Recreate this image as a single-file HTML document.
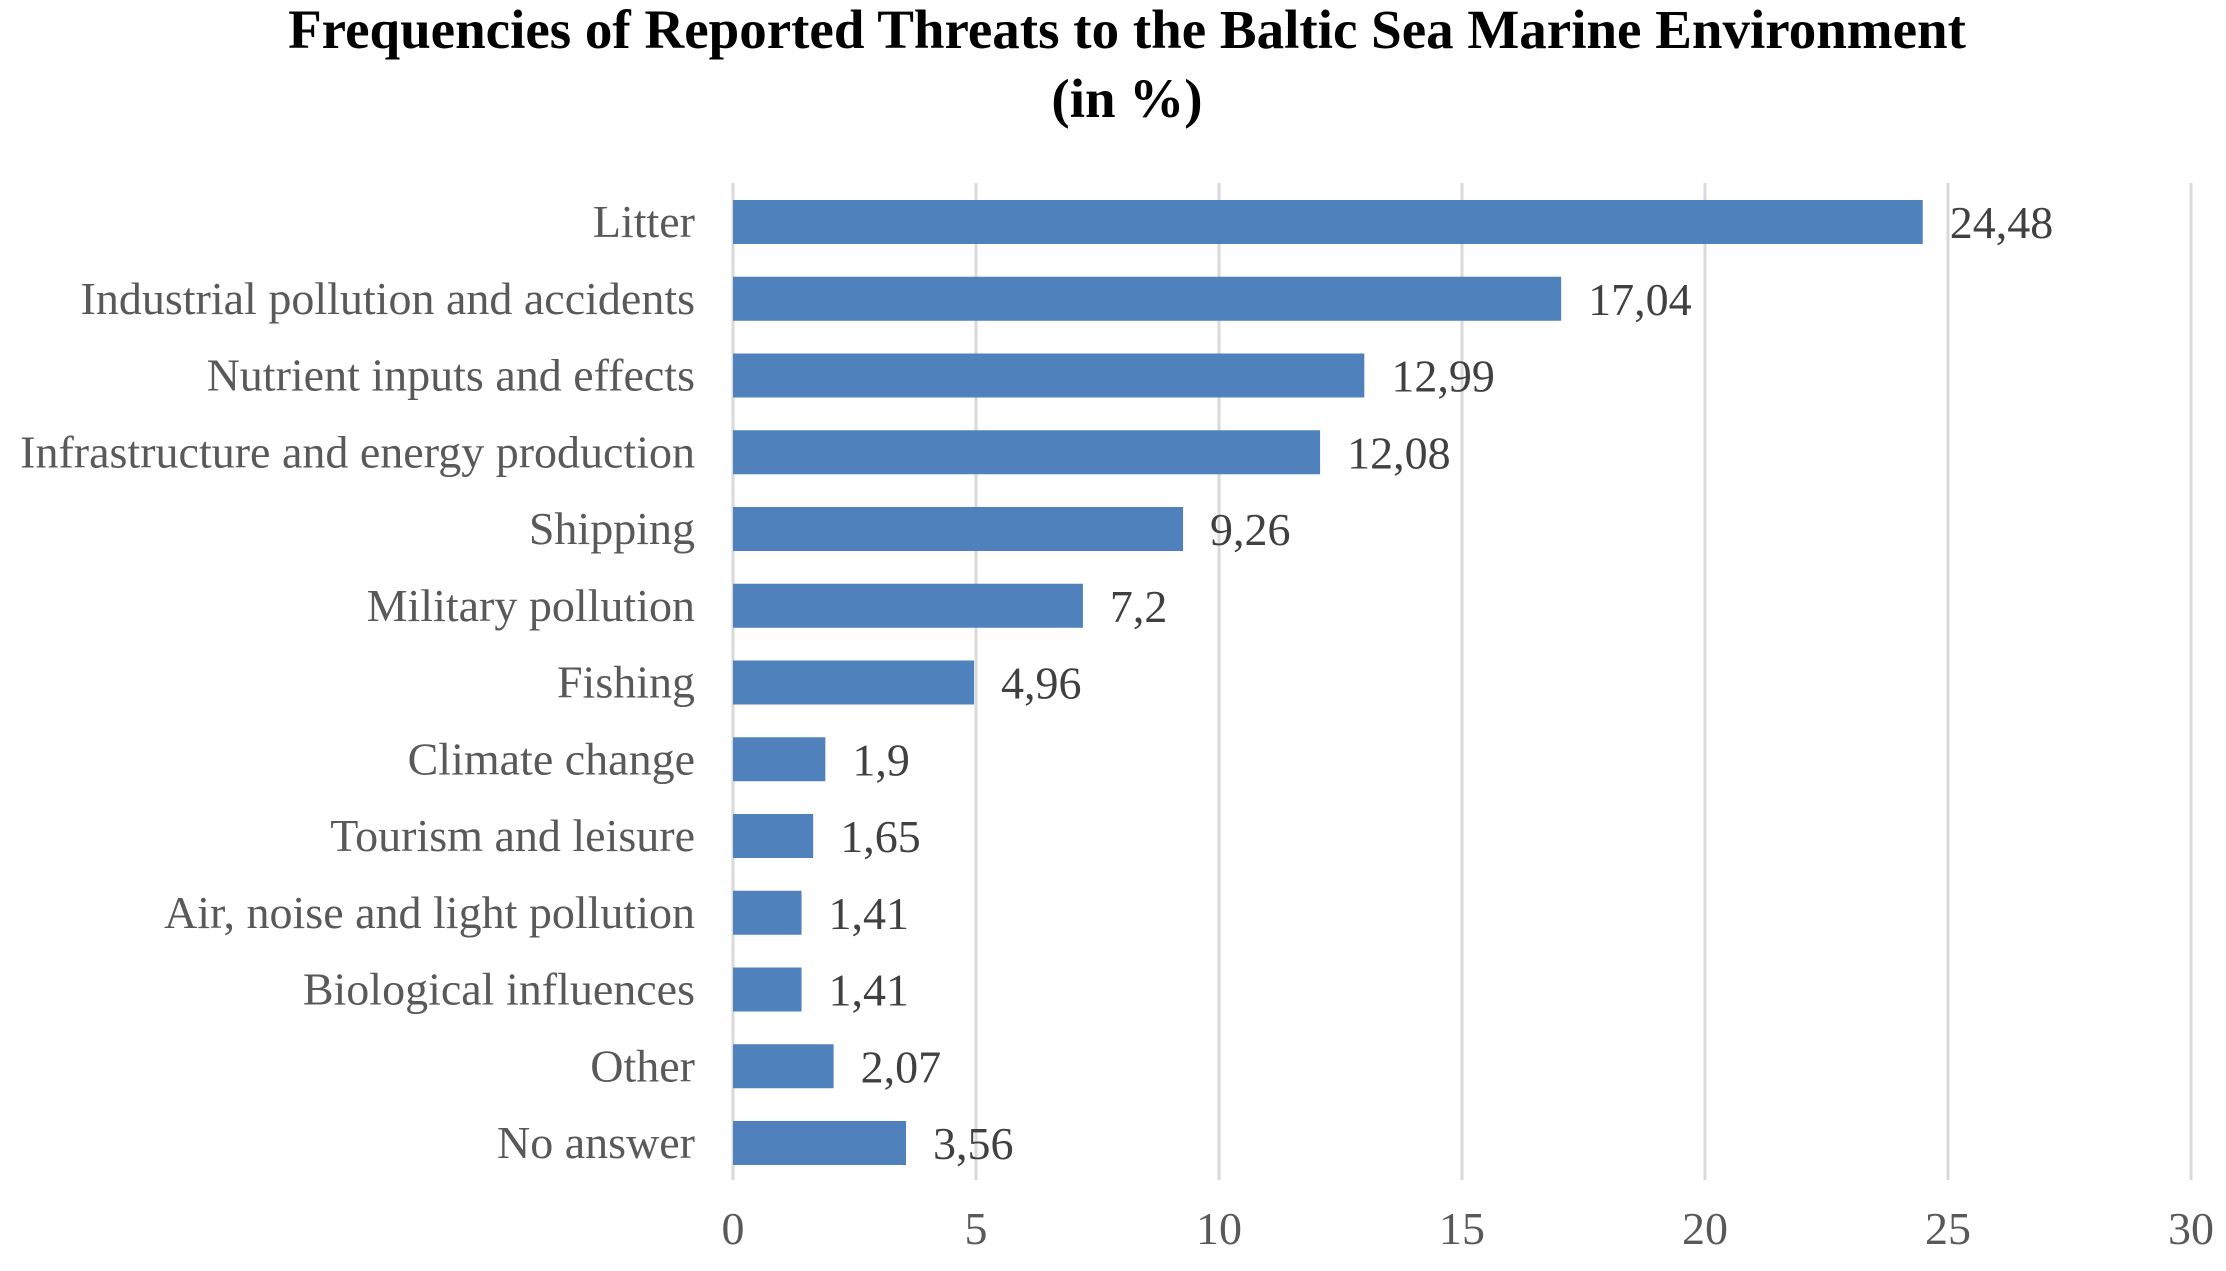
<!DOCTYPE html>
<html><head><meta charset="utf-8"><style>
html,body{margin:0;padding:0;background:#fff;}
svg text{font-family:"Liberation Serif",serif;}
</style></head><body>
<svg id="chart" width="2226" height="1266" xmlns="http://www.w3.org/2000/svg">
<text x="1127" y="48" text-anchor="middle" font-size="55" font-weight="bold" fill="#000">Frequencies of Reported Threats to the Baltic Sea Marine Environment</text>
<text x="1127" y="117" text-anchor="middle" font-size="55" font-weight="bold" fill="#000">(in %)</text>
<g id="grid"></g><g id="bars"></g><g id="labels"></g>
</svg>
<script>
const categories=["Litter","Industrial pollution and accidents","Nutrient inputs and effects","Infrastructure and energy production","Shipping","Military pollution","Fishing","Climate change","Tourism and leisure","Air, noise and light pollution","Biological influences","Other","No answer"];
const values=[24.48,17.04,12.99,12.08,9.26,7.2,4.96,1.9,1.65,1.41,1.41,2.07,3.56];
const valueLabels=["24,48","17,04","12,99","12,08","9,26","7,2","4,96","1,9","1,65","1,41","1,41","2,07","3,56"];
const ticks=[0,5,10,15,20,25,30];
const NS="http://www.w3.org/2000/svg";
const x0=733,unit=48.6,top0=183,bottom=1180,first=222,step=76.75,bh=44;
const xs=v=>x0+v*unit, ys=i=>first+i*step;
function mk(t,a,p){const e=document.createElementNS(NS,t);for(const k in a)e.setAttribute(k,a[k]);p.appendChild(e);return e;}
const g=document.getElementById('grid'),b=document.getElementById('bars'),l=document.getElementById('labels');
ticks.forEach(t=>{
 const ln=mk('line',{x1:xs(t),x2:xs(t),y1:top0,y2:bottom,stroke:'#d9d9d9','stroke-width':3},g);
 
 
 const tx=mk('text',{x:xs(t),y:1244,'text-anchor':'middle','font-size':46,fill:'#595959'},g);
 tx.textContent=t;
 
 
});
categories.forEach((c,i)=>{
 const y=ys(i);
 const r=mk('rect',{x:xs(0),y:y-bh/2,width:xs(values[i])-xs(0),height:bh,fill:'#4f81bd'},b);
 
 
 const ct=mk('text',{x:695,y:y+15,'text-anchor':'end','font-size':46,fill:'#595959'},l);
 ct.textContent=c;
 
 
 const vt=mk('text',{x:xs(values[i])+27,y:y+16,'font-size':46,fill:'#404040'},l);
 vt.textContent=valueLabels[i];
 
 
});
</script>
</body></html>
